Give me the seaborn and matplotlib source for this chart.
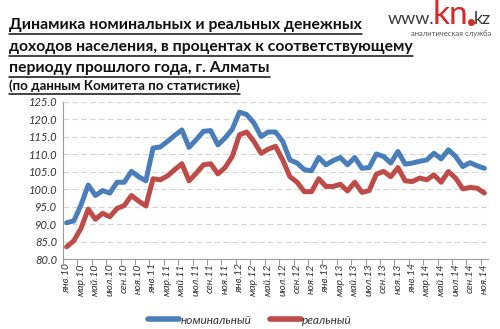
import matplotlib
matplotlib.use("Agg")
import matplotlib.pyplot as plt
from matplotlib.lines import Line2D
import numpy as np
import pandas as pd
import seaborn as sns

# Monthly series, Jan 2010 - Nov 2014 (% to the same period of previous year)
months = ["янв", "фев", "мар", "апр", "май", "июн",
          "июл", "авг", "сен", "окт", "ноя", "дек"]
years = ["10", "11", "12", "13", "14"]
periods = [f"{m}.{y}" for y in years for m in months][:59]

nominal = [90.4, 90.9, 95.5, 101.2, 98.2, 99.6, 98.9, 102.0, 102.0, 105.1, 103.6, 102.4,
           111.8, 112.1, 113.7, 115.4, 117.0, 112.0, 114.2, 116.6, 116.8, 112.7, 114.7, 117.2,
           122.1, 121.4, 119.0, 115.1, 116.4, 116.4, 113.7, 108.4, 107.5, 105.6, 105.3, 109.1,
           107.0, 108.2, 109.1, 107.0, 109.1, 106.0, 106.2, 110.1, 109.4, 107.5, 110.8, 107.2,
           107.5, 108.0, 108.4, 110.3, 108.7, 111.3, 109.4, 106.5, 107.6, 106.7, 106.0]
real = [83.5, 85.2, 88.8, 94.3, 91.4, 93.1, 92.1, 94.5, 95.3, 98.2, 96.6, 95.2,
        103.0, 102.7, 103.8, 105.6, 107.3, 102.4, 104.6, 107.0, 107.3, 104.4, 106.2, 109.4,
        115.6, 116.4, 113.7, 110.3, 111.5, 112.3, 108.4, 103.6, 102.0, 99.3, 99.3, 103.0,
        100.8, 100.8, 101.4, 99.5, 102.0, 99.1, 99.6, 104.3, 105.1, 103.6, 106.2, 102.4,
        102.2, 103.2, 102.7, 104.1, 102.0, 105.1, 103.2, 100.1, 100.5, 100.3, 98.9]
series_names = ["номинальный", "реальный"]
colors = ["#4a7ebb", "#be4b48"]

df = pd.DataFrame({"idx": np.arange(len(periods)), "period": periods,
                   series_names[0]: nominal, series_names[1]: real})
long = df.melt(id_vars=["idx", "period"], value_vars=series_names,
               var_name="series", value_name="value")

sns.set_theme(style="white")
plt.rcParams["font.family"] = ["Lato", "DejaVu Sans"]

fig = plt.figure(figsize=(5.0, 3.29), dpi=100)
ax = fig.add_axes([63 / 500, 1 - 259 / 329, 425 / 500, 157 / 329])

sns.lineplot(data=long, x="idx", y="value", hue="series", palette=colors,
             hue_order=series_names, linewidth=3.6, ax=ax, legend=False)

n = len(periods)
ax.set_xlim(-0.5, n - 0.5)
ax.set_ylim(80, 125)
ax.set_yticks(np.arange(80, 126, 5))
ax.set_yticklabels([f"{v:.1f}" for v in np.arange(80, 126, 5)],
                   fontsize=8, fontstyle="italic", color="#333333")
ax.set_xticks(np.arange(0, n, 2))
ax.set_xticklabels(periods[::2], rotation=90, fontsize=7.5,
                   fontstyle="italic", color="#333333")
ax.set_xticks(np.arange(-0.5, n, 2), minor=True)
ax.tick_params(axis="x", which="major", length=0, pad=3)
ax.tick_params(axis="x", which="minor", length=4, color="#9a9a9a", width=0.8,
               direction="out", bottom=True)
ax.tick_params(axis="y", length=0, pad=4)
ax.set_xlabel("")
ax.set_ylabel("")
ax.yaxis.grid(True, color="#d4d4d4", linestyle=(0, (5, 3)), linewidth=0.8)
for side in ["top", "right"]:
    ax.spines[side].set_visible(False)
for side in ["left", "bottom"]:
    ax.spines[side].set_color("#9a9a9a")
    ax.spines[side].set_linewidth(0.8)

handles = [Line2D([], [], color=c, linewidth=4, solid_capstyle="round") for c in colors]
leg = fig.legend(handles, series_names, loc="center", bbox_to_anchor=(0.5, 1 - 320 / 329),
                 ncol=2, frameon=False, handlelength=2.6, handletextpad=0.1,
                 columnspacing=1.6, prop={"size": 8.5, "style": "italic"})
for t in leg.get_texts():
    t.set_color("#333333")

# Title block with underlines
title_lines = [("Динамика номинальных и реальных денежных", 29, 11.3),
               ("доходов населения, в процентах к соответствующему", 51, 11.3),
               ("периоду прошлого года, г. Алматы", 72, 11.3),
               ("(по данным Комитета по статистике)", 90, 9.5)]
fig.canvas.draw()
renderer = fig.canvas.get_renderer()
W, H = fig.bbox.width, fig.bbox.height
for text, ybase, size in title_lines:
    t = fig.text(9 / 500, 1 - ybase / 329, text, fontsize=size, fontweight="bold",
                 color="#111111", ha="left", va="baseline")
    bb = t.get_window_extent(renderer=renderer)
    yline = (bb.y0 - 1.5) / H
    fig.add_artist(Line2D([bb.x0 / W, bb.x1 / W], [yline, yline],
                          color="#111111", linewidth=1.1))

# Logo: www.kn.kz
base = 1 - 24 / 329
fig.text(434 / 500, base, "www.", fontsize=13, color="#3a3a3a",
         ha="right", va="baseline")
kn = fig.text(433 / 500, base, "kn", fontsize=24, color="#d42a2a",
              ha="left", va="baseline")
kb = kn.get_window_extent(renderer=renderer)
fig.add_artist(Line2D([(kb.x1 + 2.5) / W], [base + 2.5 / H], marker="o",
                      markersize=4, color="#d42a2a", linestyle="none"))
fig.text((kb.x1 + 5) / W, base, "kz", fontsize=13, color="#3a3a3a",
         ha="left", va="baseline")
fig.text(491 / 500, 1 - 36 / 329, "аналитическая служба", fontsize=5.5,
         color="#555555", ha="right", va="baseline")

fig.savefig("out.png", dpi=100)
